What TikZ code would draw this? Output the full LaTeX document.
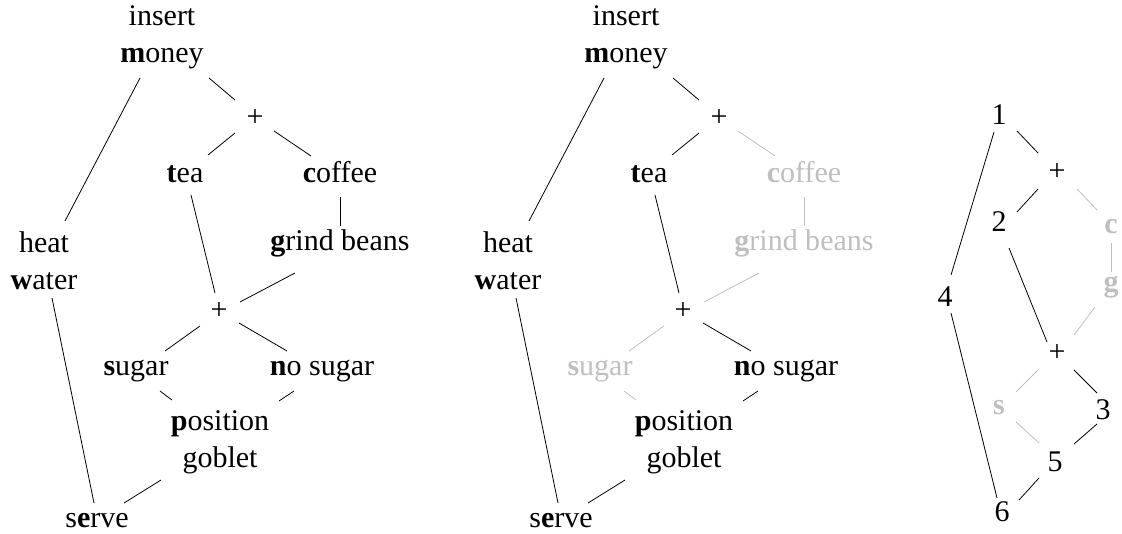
\documentclass[tikz,border=0pt]{standalone}
\usepackage{fontspec}
\setmainfont{Liberation Serif}
\tikzset{
  lbl/.style={inner sep=0pt, font=\fontsize{15}{18.5}\selectfont, align=center},
  on/.style={black},
  off/.style={black!25},
}
\newcommand\coffeegraph[4]{%
\begin{scope}[xshift=#2]
\node[lbl, anchor=base] (#1m) at (162,63) {insert\\\textbf{m}oney};
\node[lbl] (#1pa) at (255,118) {+};
\node[lbl, anchor=base] (#1t) at (185,183) {\textbf{t}ea};
\node[lbl, anchor=base, #3] (#1c) at (340,183) {\textbf{c}offee};
\node[lbl, anchor=base, #3] (#1g) at (340,250) {\textbf{g}rind beans};
\node[lbl, anchor=base] (#1h) at (44,289) {heat\\\textbf{w}ater};
\node[lbl] (#1pb) at (219,311) {+};
\node[lbl, anchor=base, #4] (#1s) at (136,375) {\textbf{s}ugar};
\node[lbl, anchor=base] (#1n) at (322,375) {\textbf{n}o sugar};
\node[lbl, anchor=base] (#1q) at (220,467) {\textbf{p}osition\\goblet};
\node[lbl, anchor=base] (#1r) at (97,527) {s\textbf{e}rve};
\draw ([shift={(-22,15)}]#1m.base) -- ([shift={(21,-68)}]#1h.base);
\draw ([shift={(47,15)}]#1m.base) -- ([shift={(-20,-18)}]#1pa.center);
\draw ([shift={(-20,15)}]#1pa.center) -- ([shift={(23,-28)}]#1t.base);
\draw[#3] ([shift={(19,13)}]#1pa.center) -- ([shift={(-29,-27)}]#1c.base);
\draw[#3] ([shift={(0,14)}]#1c.base) -- ([shift={(0,-24)}]#1g.base);
\draw ([shift={(6,12)}]#1t.base) -- ([shift={(-4,-18)}]#1pb.center);
\draw[#3] ([shift={(-45,23)}]#1g.base) -- ([shift={(21,-9)}]#1pb.center);
\draw[#4] ([shift={(-19,15)}]#1pb.center) -- ([shift={(29,-24)}]#1s.base);
\draw ([shift={(20,12)}]#1pb.center) -- ([shift={(-35,-24)}]#1n.base);
\draw[#4] ([shift={(24,16)}]#1s.base) -- ([shift={(-48,-67)}]#1q.base);
\draw ([shift={(-28,16)}]#1n.base) -- ([shift={(59,-66)}]#1q.base);
\draw ([shift={(-59,13)}]#1q.base) -- ([shift={(27,-24)}]#1r.base);
\draw ([shift={(8,9)}]#1h.base) -- ([shift={(-3,-24)}]#1r.base);
\end{scope}}
\begin{document}
\begin{tikzpicture}[x=0.5pt, y=-0.5pt]
\useasboundingbox (0,0) rectangle (1122,534);
\coffeegraph{L}{0pt}{on}{on}
\coffeegraph{M}{232pt}{off}{off}
% right graph
\node[lbl] (n1) at (999,115) {1};
\node[lbl] (npa) at (1057,172) {+};
\node[lbl] (n2) at (999,222) {2};
\node[lbl, off] (nc) at (1111,227) {\textbf{c}};
\node[lbl, off] (ng) at (1111,287) {\textbf{g}};
\node[lbl] (n4) at (945,297) {4};
\node[lbl] (npb) at (1057,353) {+};
\node[lbl, off] (ns) at (999,408) {\textbf{s}};
\node[lbl] (n3) at (1103,410) {3};
\node[lbl] (n5) at (1055,462) {5};
\node[lbl] (n6) at (1002,512) {6};
\draw ([shift={(-5,17)}]n1.center) -- ([shift={(6,-22)}]n4.center);
\draw ([shift={(18,16)}]n1.center) -- ([shift={(-19,-19)}]npa.center);
\draw ([shift={(-19,17)}]npa.center) -- ([shift={(18,-10)}]n2.center);
\draw[off] ([shift={(20,17)}]npa.center) -- ([shift={(-14,-17)}]nc.center);
\draw[off] ([shift={(0,16)}]nc.center) -- ([shift={(0,-15)}]ng.center);
\draw[off] ([shift={(-16,20)}]ng.center) -- ([shift={(17,-18)}]npb.center);
\draw ([shift={(10,26)}]n2.center) -- ([shift={(-10,-11)}]npb.center);
\draw[off] ([shift={(-19,17)}]npb.center) -- ([shift={(17,-16)}]ns.center);
\draw ([shift={(17,17)}]npb.center) -- ([shift={(-6,-17)}]n3.center);
\draw[off] ([shift={(17,14)}]ns.center) -- ([shift={(-16,-19)}]n5.center);
\draw ([shift={(-6,14)}]n3.center) -- ([shift={(19,-18)}]n5.center);
\draw ([shift={(-16,16)}]n5.center) -- ([shift={(17,-12)}]n6.center);
\draw ([shift={(6,16)}]n4.center) -- ([shift={(-5,-14)}]n6.center);
\end{tikzpicture}
\end{document}
